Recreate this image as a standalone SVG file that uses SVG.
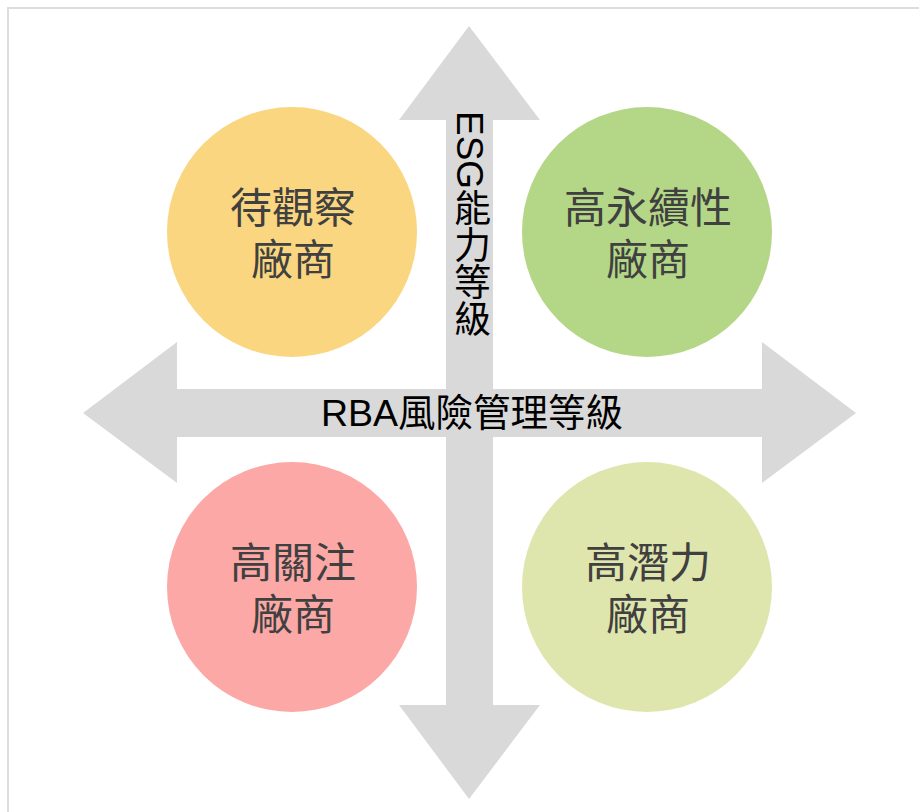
<svg xmlns="http://www.w3.org/2000/svg" width="919" height="812" viewBox="0 0 919 812">
<style>
.arrow{fill:#D9D9D9}
.ct{font-family:"Liberation Sans","Noto Sans CJK TC",sans-serif;font-size:42px;fill:#404040;text-anchor:middle}
.lab{font-family:"Liberation Sans","Noto Sans CJK TC",sans-serif;font-size:37px;fill:#000}
</style>
<rect x="0" y="0" width="919" height="812" fill="#fff"/>
<rect x="8" y="8" width="940" height="840" fill="none" stroke="#DDDDDD" stroke-width="2"/>
<g id="connectors">
<polygon id="vArrow" class="arrow" points="469,26 540,120 493,120 493,705 540,705 469,799 399,705 446,705 446,120 399,120"/>
<polygon id="hArrow" class="arrow" points="83,413 177,342 177,389 762,389 762,342 856,413 762,483 762,437 177,437 177,483"/>
<text class="lab" x="469" y="111" style="writing-mode:vertical-rl" text-anchor="start">ESG能力等級</text>
<text class="lab" x="472" y="426" text-anchor="middle" style="font-size:37.5px">RBA風險管理等級</text>
</g>
<g id="n1">
<circle cx="292" cy="232" r="125" fill="#F9D67F"/>
<text class="ct" x="293" y="223">待觀察</text>
<text class="ct" x="293" y="275">廠商</text>
</g>
<g id="n2">
<circle cx="647" cy="232" r="125" fill="#B4D787"/>
<text class="ct" x="648" y="223">高永續性</text>
<text class="ct" x="648" y="275">廠商</text>
</g>
<g id="n3">
<circle cx="292" cy="587" r="125" fill="#FCA8A6"/>
<text class="ct" x="293" y="578">高關注</text>
<text class="ct" x="293" y="630">廠商</text>
</g>
<g id="n4">
<circle cx="647" cy="587" r="125" fill="#DFE6AD"/>
<text class="ct" x="648" y="578">高潛力</text>
<text class="ct" x="648" y="630">廠商</text>
</g>
</svg>
